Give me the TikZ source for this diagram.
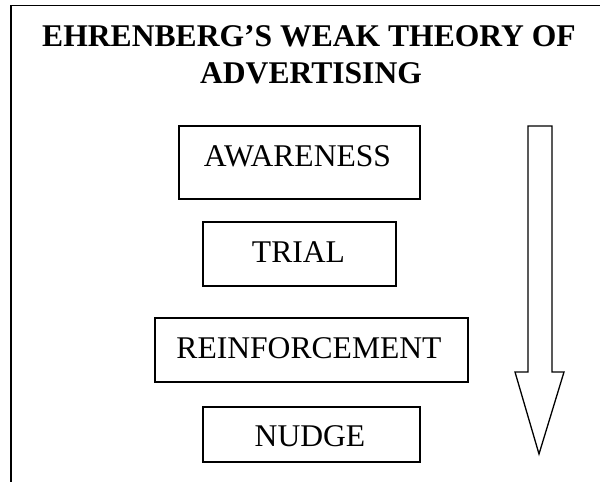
\documentclass[tikz,border=0pt]{standalone}
\usepackage{fontspec}
\setmainfont{Liberation Serif}
\usetikzlibrary{fit}
\begin{document}
\begin{tikzpicture}[x=1pt,y=-1pt,
  boxframe/.style={draw=black, line width=1.2pt, inner sep=0pt, fill=none},
  lbl/.style={anchor=base, inner sep=0pt, font=\fontsize{31.6}{37}\selectfont},
  ttl/.style={anchor=base, inner sep=0pt, font=\fontsize{31.6}{37}\selectfont\bfseries}]
\useasboundingbox (0,0) rectangle (600,482);
\fill[white] (0,0) rectangle (600,482);
% outer frame (only top and left edges visible)
\draw[line width=1.5pt] (11,490) -- (11,5.7) -- (610,5.7);
% title
\node[ttl] (t1) at (309,46) {EHRENBERG’S WEAK THEORY OF};
\node[ttl] (t2) at (311,83) {ADVERTISING};
% boxes
\coordinate (a1) at (179,126); \coordinate (a2) at (420,199);
\node[boxframe, fit=(a1)(a2)] (aw) {};
\node[lbl] (awt) at (297.5,166) {AWARENESS};
\coordinate (b1) at (203,222); \coordinate (b2) at (396,286);
\node[boxframe, fit=(b1)(b2)] (tr) {};
\node[lbl] (trt) at (298.5,262) {TRIAL};
\coordinate (c1) at (155,318); \coordinate (c2) at (468,382);
\node[boxframe, fit=(c1)(c2)] (re) {};
\node[lbl] (ret) at (309,358) {REINFORCEMENT};
\coordinate (d1) at (203,407); \coordinate (d2) at (420,462);
\node[boxframe, fit=(d1)(d2)] (nu) {};
\node[lbl] (nut) at (310,446) {NUDGE};
% block arrow
\draw[line width=1.3pt, line join=miter] (528,126) -- (552,126) -- (552,372) -- (564,372)
  -- (539,454) -- (515,372) -- (528,372) -- cycle;
\end{tikzpicture}
\end{document}
